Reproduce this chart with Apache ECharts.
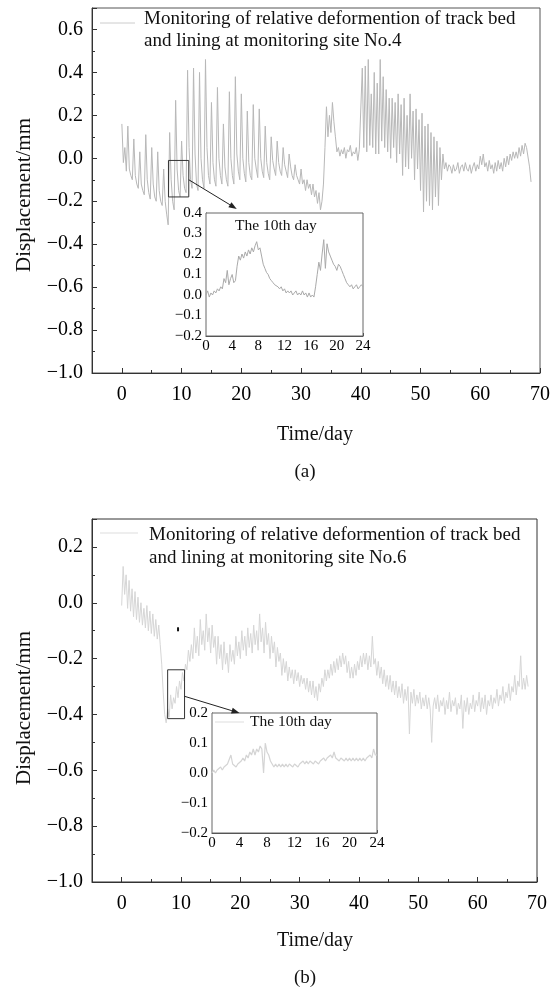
<!DOCTYPE html>
<html><head><meta charset="utf-8">
<script src="https://cdn.jsdelivr.net/npm/echarts@6/dist/echarts.min.js"></script>
<style>html,body{margin:0;padding:0;background:#fff}#c{width:553px;height:990px}</style>
</head><body><div id="c"></div>
<script>
// ---------- data ----------
const dayStep = 0.25;      // main series: samples every 6 h, starting at day 0
const hourStep = 0.25;     // insets: samples every 15 min, starting at hour 0

// site No.4 relative deformation (mm)
const dispA = [
 0.16,-0.02,0.05,-0.06, 0.15,-0.05,-0.08,-0.10, 0.09,-0.08,-0.12,-0.14, 0.03,-0.12,-0.15,-0.17,
 0.11,-0.10,-0.16,-0.19, 0.05,-0.12,-0.18,-0.20, 0.03,-0.15,-0.20,-0.22, -0.05,-0.20,-0.26,-0.31,
 0.12,-0.10,-0.20,-0.24, 0.27,-0.05,-0.15,-0.18, 0.08,-0.08,-0.14,-0.16, 0.41,0.05,-0.10,-0.14,
 0.42,0.02,-0.12,-0.15, 0.40,0.00,-0.10,-0.14, 0.46,0.05,-0.08,-0.12, 0.26,-0.02,-0.10,-0.13,
 0.33,0.00,-0.08,-0.12, 0.16,-0.04,-0.10,-0.13, 0.31,0.00,-0.08,-0.12, 0.38,0.02,-0.06,-0.10,
 0.30,0.00,-0.07,-0.11, 0.22,-0.02,-0.08,-0.10, 0.25,0.00,-0.05,-0.09, 0.23,0.00,-0.06,-0.09,
 0.15,-0.02,-0.07,-0.10, 0.10,-0.01,-0.05,-0.08, 0.08,-0.02,-0.06,-0.08, 0.05,-0.03,-0.06,-0.09,
 0.02,-0.04,-0.08,-0.10, -0.03,-0.08,-0.10,-0.12, -0.05,-0.12,-0.10,-0.15, -0.10,-0.14,-0.12,-0.17,
 -0.12,-0.18,-0.15,-0.21, -0.16,-0.24,-0.20,-0.12, 0.05,0.24,0.10,0.20, 0.12,0.26,0.17,0.10,
 0.03,0.05,0.01,0.04, 0.02,0.05,0.00,0.04, 0.03,0.06,0.01,0.03, 0.02,0.05,-0.01,0.04,
 0.04,0.42,0.05,0.43, 0.03,0.46,0.06,0.30, 0.05,0.40,0.02,0.35, 0.02,0.46,0.08,0.38,
 0.05,0.32,0.03,0.28, 0.00,0.28,0.05,0.26, -0.02,0.30,0.02,0.25, -0.08,0.28,-0.04,0.20,
 -0.05,0.30,0.00,0.22, -0.10,0.23,-0.05,0.18, -0.15,0.21,-0.25,0.15, -0.20,0.16,-0.22,0.12,
 -0.24,0.10,-0.18,0.08, -0.22,0.05,-0.10,0.02, -0.05,-0.02,-0.06,-0.03, -0.04,-0.07,-0.03,-0.06,
 -0.05,-0.02,-0.07,-0.04, -0.03,-0.06,-0.02,-0.05, -0.06,-0.03,-0.07,-0.04, -0.02,-0.06,-0.03,-0.05,
 0.01,-0.03,0.02,-0.04, -0.02,-0.06,-0.01,-0.05, -0.03,-0.07,-0.02,-0.06, -0.01,-0.05,-0.02,-0.06,
 0.00,-0.04,0.01,-0.03, 0.02,-0.01,0.03,0.00, 0.03,0.00,0.05,0.01, 0.06,0.02,0.07,0.05,
 0.05,-0.04,-0.11
];

// site No.6 relative deformation (mm)
const dispB = [
 -0.01,0.13,0.03,0.10, -0.02,0.08,-0.03,0.05, -0.05,0.04,-0.06,0.02, -0.07,0.00,-0.08,-0.02,
 -0.09,-0.01,-0.10,-0.03, -0.11,-0.04,-0.12,-0.06, -0.13,-0.08,-0.15,-0.22, -0.32,-0.40,-0.43,-0.38,
 -0.41,-0.33,-0.38,-0.34, -0.36,-0.30,-0.34,-0.28, -0.31,-0.25,-0.28,-0.22, -0.24,-0.17,-0.21,-0.15,
 -0.20,-0.09,-0.18,-0.12, -0.19,-0.06,-0.15,-0.10, -0.17,-0.04,-0.14,-0.09, -0.18,-0.08,-0.16,-0.12,
 -0.22,-0.12,-0.20,-0.15, -0.24,-0.14,-0.22,-0.18, -0.25,-0.15,-0.21,-0.17, -0.22,-0.12,-0.19,-0.14,
 -0.20,-0.10,-0.17,-0.12, -0.19,-0.09,-0.16,-0.11, -0.18,-0.08,-0.15,-0.10, -0.17,-0.04,-0.14,-0.09,
 -0.18,-0.07,-0.15,-0.11, -0.20,-0.12,-0.18,-0.14, -0.23,-0.16,-0.21,-0.18, -0.26,-0.20,-0.25,-0.21,
 -0.28,-0.23,-0.27,-0.24, -0.29,-0.24,-0.28,-0.25, -0.30,-0.26,-0.29,-0.27, -0.31,-0.27,-0.32,-0.28,
 -0.33,-0.28,-0.34,-0.30, -0.35,-0.29,-0.32,-0.27, -0.30,-0.24,-0.28,-0.24, -0.27,-0.22,-0.26,-0.21,
 -0.25,-0.20,-0.24,-0.19, -0.23,-0.18,-0.22,-0.19, -0.25,-0.21,-0.27,-0.23, -0.27,-0.22,-0.26,-0.21,
 -0.24,-0.19,-0.23,-0.18, -0.22,-0.18,-0.24,-0.19, -0.23,-0.12,-0.22,-0.20, -0.26,-0.21,-0.27,-0.23,
 -0.29,-0.24,-0.30,-0.26, -0.31,-0.26,-0.32,-0.28, -0.33,-0.28,-0.34,-0.30, -0.34,-0.29,-0.36,-0.31,
 -0.35,-0.30,-0.47,-0.32, -0.36,-0.31,-0.37,-0.33, -0.36,-0.32,-0.38,-0.34, -0.37,-0.33,-0.38,-0.34,
 -0.38,-0.50,-0.37,-0.34, -0.38,-0.33,-0.39,-0.35, -0.37,-0.34,-0.40,-0.35, -0.38,-0.32,-0.39,-0.35,
 -0.37,-0.34,-0.40,-0.36, -0.38,-0.33,-0.45,-0.35, -0.39,-0.34,-0.40,-0.36, -0.38,-0.33,-0.39,-0.35,
 -0.37,-0.32,-0.39,-0.34, -0.38,-0.33,-0.40,-0.35, -0.37,-0.33,-0.38,-0.34, -0.36,-0.31,-0.37,-0.33,
 -0.35,-0.30,-0.36,-0.32, -0.34,-0.29,-0.35,-0.30, -0.32,-0.26,-0.33,-0.28, -0.30,-0.19,-0.31,-0.27,
 -0.31,-0.26,-0.30
];

// 10th day, site No.4 (mm)
const insetA = [
 0.00,0.02,-0.01,0.01, 0.00,0.02,0.01,0.03, 0.02,0.04,0.03,0.08, 0.06,0.12,0.05,0.08,
 0.10,0.06,0.07,0.14, 0.19,0.17,0.20,0.18, 0.21,0.19,0.22,0.20, 0.23,0.21,0.24,0.26,
 0.22,0.23,0.19,0.15, 0.13,0.11,0.10,0.08, 0.07,0.06,0.05,0.05, 0.04,0.03,0.04,0.02,
 0.03,0.01,0.02,0.01, 0.02,0.00,0.01,0.02, 0.00,0.01,0.00,0.02, 0.00,0.01,-0.01,0.01,
 -0.01,0.00,-0.01,0.04, 0.10,0.16,0.12,0.20, 0.27,0.13,0.25,0.21, 0.19,0.17,0.15,0.14,
 0.12,0.15,0.14,0.12, 0.10,0.08,0.06,0.05, 0.04,0.05,0.03,0.04, 0.05,0.03,0.04,0.05,
 0.04
];

// 10th day, site No.6 (mm)
const insetB = [
 0.00,0.01,0.00,0.01, 0.01,0.02,0.01,0.02, 0.02,0.03,0.03,0.06, 0.03,0.03,0.02,0.03,
 0.03,0.04,0.05,0.04, 0.06,0.05,0.07,0.06, 0.08,0.06,0.08,0.07, 0.09,0.08,0.00,0.10,
 0.07,0.06,0.04,0.03, 0.02,0.03,0.02,0.03, 0.02,0.03,0.02,0.03, 0.02,0.03,0.03,0.02,
 0.03,0.03,0.02,0.03, 0.03,0.04,0.03,0.04, 0.03,0.04,0.04,0.03, 0.04,0.04,0.03,0.04,
 0.04,0.05,0.04,0.05, 0.05,0.06,0.05,0.07, 0.05,0.05,0.04,0.05, 0.05,0.04,0.05,0.04,
 0.05,0.04,0.05,0.04, 0.05,0.04,0.05,0.04, 0.05,0.04,0.05,0.05, 0.06,0.05,0.08,0.06,
 0.06
];

// tick labels
const dayTicks = [0, 10, 20, 30, 40, 50, 60, 70];
const dayMinorTicks = [5, 15, 25, 35, 45, 55, 65];

// ---------- chart ----------
const FONT = '"Liberation Serif","Times New Roman",serif';
const chart = echarts.init(document.getElementById('c'), null, {renderer: 'canvas'});
const toPairs = (arr, step) => arr.map((v, i) => [i * step, v]);
const fmt1 = v => (v < 0 ? '\u2212' : '') + Math.abs(v).toFixed(1);

function mainX(grid) {
  return {
    type: 'value', gridIndex: grid, min: -5, max: 70, position: 'bottom',
    axisLine: {onZero: false, lineStyle: {color: '#333', width: 1}},
    axisTick: {inside: true, length: 5, customValues: dayTicks, lineStyle: {color: '#333'}},
    axisLabel: {customValues: dayTicks, color: '#000', fontFamily: FONT, fontSize: 20, margin: 12},
    splitLine: {show: false}
  };
}
function minorX(grid) {
  return {
    type: 'value', gridIndex: grid, min: -5, max: 70, position: 'bottom',
    axisLine: {show: false, onZero: false},
    axisTick: {inside: true, length: 3, customValues: dayMinorTicks, lineStyle: {color: '#333'}},
    axisLabel: {show: false}, splitLine: {show: false}
  };
}
function insetX(grid) {
  return {
    type: 'value', gridIndex: grid, min: 0, max: 24, interval: 4,
    axisLine: {onZero: false, lineStyle: {color: '#444'}},
    axisTick: {inside: true, length: 3, lineStyle: {color: '#444'}},
    minorTick: {show: true, splitNumber: 2, length: 2, lineStyle: {color: '#444'}},
    axisLabel: {color: '#000', fontFamily: FONT, fontSize: 15, margin: 3},
    splitLine: {show: false}
  };
}
function mainY(grid, max) {
  return {
    type: 'value', gridIndex: grid, min: -1, max: max, interval: 0.2,
    axisLine: {show: true, onZero: false, lineStyle: {color: '#333'}},
    axisTick: {show: true, inside: true, length: 5, lineStyle: {color: '#333'}},
    minorTick: {show: true, splitNumber: 2, length: 3, lineStyle: {color: '#333'}},
    axisLabel: {color: '#000', fontFamily: FONT, fontSize: 20, margin: 9, showMaxLabel: false, formatter: fmt1},
    splitLine: {show: false}
  };
}
function insetY(grid, min, max) {
  return {
    type: 'value', gridIndex: grid, min: min, max: max, interval: 0.1,
    axisLine: {show: true, onZero: false, lineStyle: {color: '#444'}},
    axisTick: {show: true, inside: true, length: 3, lineStyle: {color: '#444'}},
    minorTick: {show: true, splitNumber: 2, length: 2, lineStyle: {color: '#444'}},
    axisLabel: {color: '#000', fontFamily: FONT, fontSize: 15, margin: 4, formatter: fmt1},
    splitLine: {show: false}
  };
}

const option = {
  animation: false,
  backgroundColor: '#fff',
  grid: [
    {left: 92, top: 8, width: 448, height: 365, show: true, borderColor: '#555', borderWidth: 1, backgroundColor: 'transparent'},
    {left: 206, top: 213, width: 157, height: 123, show: true, borderColor: '#666', borderWidth: 1, backgroundColor: '#fff', z: 5},
    {left: 92, top: 519, width: 445, height: 363, show: true, borderColor: '#333', borderWidth: 1, backgroundColor: 'transparent'},
    {left: 212, top: 713, width: 165, height: 120, show: true, borderColor: '#666', borderWidth: 1, backgroundColor: '#fff', z: 5}
  ],
  xAxis: [mainX(0), minorX(0), insetX(1), mainX(2), minorX(2), insetX(3)],
  yAxis: [mainY(0, 0.7), insetY(1, -0.2, 0.4), mainY(2, 0.3), insetY(3, -0.2, 0.2)],
  series: [
    {name: 'Monitoring of relative deformention of track bed and lining at monitoring site No.4', type: 'line',
     xAxisIndex: 0, yAxisIndex: 0, data: toPairs(dispA, dayStep), showSymbol: false, symbol: 'none',
     lineStyle: {color: '#b8b8b8', width: 1}, sampling: null},
    {name: 'The 10th day (No.4)', type: 'line', xAxisIndex: 2, yAxisIndex: 1, data: toPairs(insetA, hourStep),
     showSymbol: false, symbol: 'none', lineStyle: {color: '#aaaaaa', width: 1}, z: 6},
    {name: 'Monitoring of relative deformention of track bed and lining at monitoring site No.6', type: 'line',
     xAxisIndex: 3, yAxisIndex: 2, data: toPairs(dispB, dayStep), showSymbol: false, symbol: 'none',
     lineStyle: {color: '#d6d6d6', width: 1}},
    {name: 'The 10th day', type: 'line', xAxisIndex: 5, yAxisIndex: 3, data: toPairs(insetB, hourStep),
     showSymbol: false, symbol: 'none', lineStyle: {color: '#d4d4d4', width: 1.2}, z: 6}
  ]
};
chart.setOption(option);

// ---------- annotations (positioned from data coordinates) ----------
const px = (s, pt) => chart.convertToPixel({seriesIndex: s}, pt);
function zoomBox(s, x0, x1, y0, y1) {
  const a = px(s, [x0, y0]), b = px(s, [x1, y1]);
  return {type: 'rect', z: 10, shape: {x: Math.min(a[0], b[0]), y: Math.min(a[1], b[1]), width: Math.abs(b[0] - a[0]), height: Math.abs(b[1] - a[1])},
          style: {fill: 'none', stroke: '#333', lineWidth: 1}};
}
function arrow(p1, p2) {
  const dx = p2[0] - p1[0], dy = p2[1] - p1[1], L = Math.hypot(dx, dy);
  const ux = dx / L, uy = dy / L, hl = 8, hw = 3;
  const bx = p2[0] - ux * hl, by = p2[1] - uy * hl;
  return [
    {type: 'line', z: 10, shape: {x1: p1[0], y1: p1[1], x2: bx, y2: by}, style: {stroke: '#222', lineWidth: 1}},
    {type: 'polygon', z: 10, shape: {points: [[p2[0], p2[1]], [bx - uy * hw, by + ux * hw], [bx + uy * hw, by - ux * hw]]}, style: {fill: '#222'}}
  ];
}
function txt(x, y, s, size, opts) {
  return Object.assign({type: 'text', z: 12, x: x, y: y,
    style: {text: s, font: size + 'px ' + FONT, fill: '#111', align: 'left', verticalAlign: 'middle', textAlign: 'left', textVerticalAlign: 'middle'}}, opts || {});
}
function ctxt(x, y, s, size, rot) {
  return {type: 'text', z: 12, x: x, y: y, rotation: rot || 0,
    style: {text: s, font: size + 'px ' + FONT, fill: '#111', align: 'center', verticalAlign: 'middle', textAlign: 'center', textVerticalAlign: 'middle'}};
}

const g = [];
// (a)
g.push(zoomBox(0, 7.8, 11.2, -0.01, -0.18));
g.push(...arrow(px(0, [11.2, -0.10]), px(1, [4.7, 0.42])));
g.push({type: 'line', z: 12, shape: {x1: 100, y1: 23, x2: 135, y2: 23}, style: {stroke: '#cccccc', lineWidth: 1}});
g.push(txt(144, 19, 'Monitoring of relative deformention of track bed', 19));
g.push(txt(144, 41, 'and lining at monitoring site No.4', 19));
g.push(txt(235, 226, 'The 10th day', 15.5));
g.push(ctxt(24, 195, 'Displacement/mm', 21, Math.PI / 2));
g.push(ctxt(315, 435, 'Time/day', 20));
g.push(ctxt(305, 472, '(a)', 19));
// (b)
g.push(zoomBox(2, 7.75, 10.6, -0.24, -0.415));
g.push(...arrow(px(2, [10.6, -0.335]), px(3, [4.0, 0.2])));
const dot = px(2, [9.5, -0.095]);
g.push({type: 'rect', z: 10, shape: {x: dot[0] - 1, y: dot[1] - 2, width: 2, height: 4}, style: {fill: '#111'}});
g.push({type: 'line', z: 12, shape: {x1: 100, y1: 533, x2: 138, y2: 533}, style: {stroke: '#dddddd', lineWidth: 1}});
g.push(txt(149, 535, 'Monitoring of relative deformention of track bed', 19));
g.push(txt(149, 558, 'and lining at monitoring site No.6', 19));
g.push({type: 'line', z: 12, shape: {x1: 215, y1: 722, x2: 244, y2: 722}, style: {stroke: '#dddddd', lineWidth: 1}});
g.push(txt(250, 722, 'The 10th day', 15.5));
g.push(ctxt(24, 708, 'Displacement/mm', 21, Math.PI / 2));
g.push(ctxt(315, 941, 'Time/day', 20));
g.push(ctxt(305, 978, '(b)', 19));

chart.setOption({graphic: {elements: g}});
</script>
</body></html>
